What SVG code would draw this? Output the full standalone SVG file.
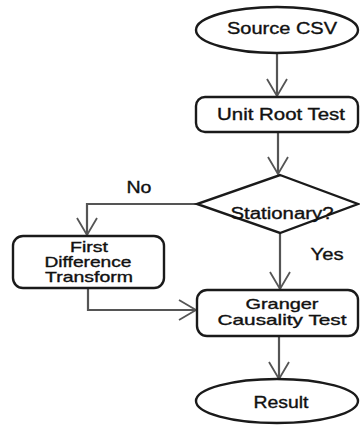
<svg xmlns="http://www.w3.org/2000/svg" width="360" height="425" viewBox="0 0 360 425">
<style>
.node{fill:#fff;stroke:#1a1a1a;stroke-width:2.4}
.lbl{font-family:"Liberation Sans",Arial,sans-serif;font-size:16px;fill:#111;stroke:#111;stroke-width:0.35;text-anchor:middle}
.ml{font-size:14.5px}
.edge{fill:none;stroke:#555;stroke-width:2.2}
</style>
<defs>
<marker id="v" markerUnits="userSpaceOnUse" viewBox="-19 -12 21 24" refX="0" refY="0" markerWidth="21" markerHeight="24" orient="auto">
<path d="M-17,-10 L0,0 L-17,10" fill="none" stroke="#555" stroke-width="1.8"/>
</marker>
</defs>
<rect width="360" height="425" fill="#fff"/>
<g id="connectors">
<path class="edge" d="M277,53 V96" marker-end="url(#v)"/>
<path class="edge" d="M278,132 V174" marker-end="url(#v)"/>
<path class="edge" d="M197,204 H87 V235" marker-end="url(#v)"/>
<path class="edge" d="M280,233 V289" marker-end="url(#v)"/>
<path class="edge" d="M88,288 V310 H196" marker-end="url(#v)"/>
<path class="edge" d="M279,336 V379" marker-end="url(#v)"/>
<text class="lbl" x="139" y="193" textLength="25" lengthAdjust="spacingAndGlyphs">No</text>
<text class="lbl" x="327" y="260" textLength="33" lengthAdjust="spacingAndGlyphs">Yes</text>
</g>
<g id="source">
<ellipse class="node" cx="277" cy="30" rx="81" ry="23"/>
<text class="lbl" x="282" y="34" textLength="110" lengthAdjust="spacingAndGlyphs">Source CSV</text>
</g>
<g id="unitroot">
<rect class="node" x="196" y="97" width="162" height="35" rx="9"/>
<text class="lbl" x="281" y="120" textLength="128" lengthAdjust="spacingAndGlyphs">Unit Root Test</text>
</g>
<g id="stationary">
<polygon class="node" points="280,175 358,204 280,233 197,204"/>
<text class="lbl" x="282" y="219" textLength="103" lengthAdjust="spacingAndGlyphs">Stationary?</text>
</g>
<g id="firstdiff">
<rect class="node" x="13" y="236" width="151" height="52" rx="10"/>
<text class="lbl ml" x="89" y="252" textLength="38" lengthAdjust="spacingAndGlyphs">First</text>
<text class="lbl ml" x="88" y="267" textLength="87" lengthAdjust="spacingAndGlyphs">Difference</text>
<text class="lbl ml" x="89" y="282" textLength="88" lengthAdjust="spacingAndGlyphs">Transform</text>
</g>
<g id="granger">
<rect class="node" x="197" y="290" width="161" height="46" rx="10"/>
<text class="lbl ml" x="282" y="309" textLength="73" lengthAdjust="spacingAndGlyphs">Granger</text>
<text class="lbl ml" x="282" y="325" textLength="129" lengthAdjust="spacingAndGlyphs">Causality Test</text>
</g>
<g id="result">
<ellipse class="node" cx="277" cy="401" rx="81" ry="22"/>
<text class="lbl" x="281" y="408" textLength="55" lengthAdjust="spacingAndGlyphs">Result</text>
</g>
</svg>
